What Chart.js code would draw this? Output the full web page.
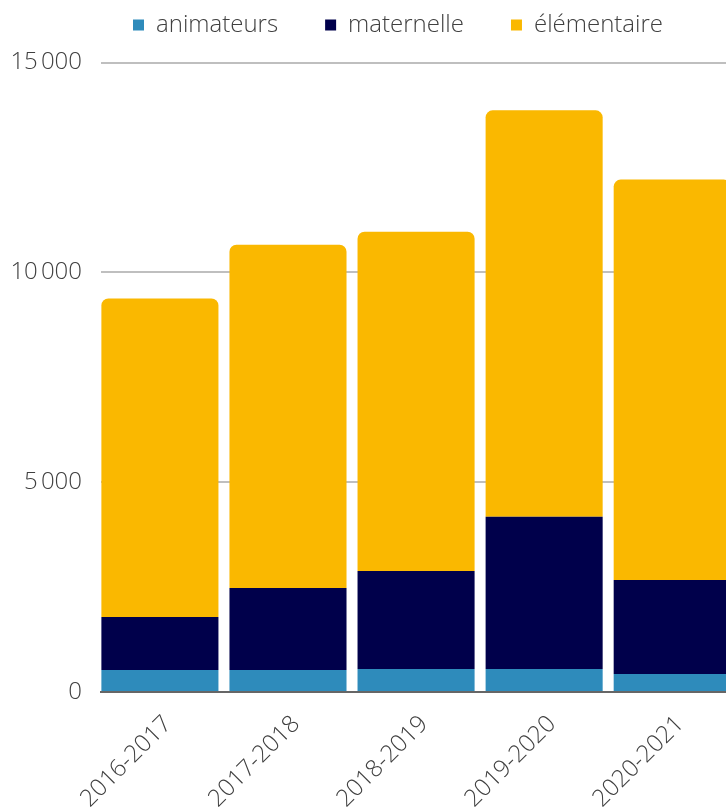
<!DOCTYPE html>
<html>
<head>
<meta charset="utf-8">
<script src="https://cdn.jsdelivr.net/npm/chart.js@4/dist/chart.umd.min.js"></script>
<style>
  html, body { margin: 0; padding: 0; background: #ffffff; overflow: hidden; }
  #wrap { position: relative; width: 726px; height: 809px; }
</style>
</head>
<body>
<div id="wrap"><canvas id="c"></canvas></div>
<script>
// ---- data ----
const categories = ['2016-2017', '2017-2018', '2018-2019', '2019-2020', '2020-2021'];
const animateurs = [525, 525, 550, 550, 430];
const maternelle = [1265, 1955, 2335, 3625, 2240];
const elementaire = [7585, 8180, 8085, 9685, 9540];
const yTicks = [0, 5000, 10000, 15000];
const seriesNames = ['animateurs', 'maternelle', 'élémentaire'];

const colors = ['#2E8BBB', '#00004B', '#FAB800'];
const textColor = '#404040';

function fmt(v) {
  const s = String(Math.round(v));
  return s.replace(/\B(?=(\d{3})+(?!\d))/g, '\u202F');
}

function pts(arr) { return arr.map((v, i) => ({ x: i, y: v })); }

Chart.defaults.font.family = "'Open Sans', sans-serif";
Chart.defaults.font.weight = 300;
Chart.defaults.color = textColor;

const LEGEND_TOP = -34;
const LEGEND_SHIFT = 35;
const legendPlugin = {
  id: 'legendTweak',
  beforeLayout(chart) {
    const lg = chart.legend;
    if (lg && !lg.__patched) {
      const orig = lg.fit;
      lg.fit = function () { orig.call(this); this.height = 62.5 - LEGEND_TOP; };
      lg.__patched = true;
    }
  },
  afterLayout(chart) {
    const lg = chart.legend;
    if (lg) { lg.left += LEGEND_SHIFT; lg.right += LEGEND_SHIFT; }
  }
};

new Chart(document.getElementById('c'), {
  type: 'bar',
  data: {
    datasets: [
      { label: seriesNames[0], data: pts(animateurs), backgroundColor: colors[0], borderWidth: 0 },
      { label: seriesNames[1], data: pts(maternelle), backgroundColor: colors[1], borderWidth: 0 },
      { label: seriesNames[2], data: pts(elementaire), backgroundColor: colors[2], borderWidth: 0,
        borderRadius: { topLeft: 7, topRight: 7, bottomLeft: 0, bottomRight: 0 }, borderSkipped: false }
    ]
  },
  plugins: [legendPlugin],
  options: {
    responsive: true,
    maintainAspectRatio: false,
    animation: false,
    layout: { padding: { top: LEGEND_TOP, left: 0, right: 0, bottom: 0 } },
    barPercentage: 0.914,
    categoryPercentage: 1,
    plugins: {
      legend: {
        position: 'top',
        align: 'center',
        labels: {
          boxWidth: 11,
          boxHeight: 11,
          padding: 47,
          color: textColor,
          font: { size: 24, weight: 300 }
        }
      },
      tooltip: { enabled: false }
    },
    scales: {
      x: {
        type: 'linear',
        stacked: true,
        offset: false,
        min: -0.46,
        max: 4.42,
        grid: { display: false, offset: false },
        border: { display: true, color: '#666666', width: 2 },
        afterBuildTicks(axis) { axis.ticks = categories.map((c, i) => ({ value: i })); },
        afterFit(scale) { scale.height = 117; },
        ticks: {
          autoSkip: false,
          minRotation: 45,
          maxRotation: 45,
          padding: 10,
          labelOffset: 8,
          color: textColor,
          font: { size: 24, weight: 300 },
          callback: (v) => categories[v]
        }
      },
      y: {
        stacked: true,
        min: 0,
        max: 15000,
        afterBuildTicks(axis) { axis.ticks = yTicks.map(v => ({ value: v })); },
        afterFit(scale) { scale.width = 101; },
        grid: { color: '#BFBFBF', lineWidth: 2, drawTicks: false },
        border: { display: false },
        ticks: {
          padding: 19,
          color: textColor,
          font: { size: 24, weight: 300 },
          callback: (v) => fmt(v)
        }
      }
    }
  }
});
</script>
</body>
</html>
